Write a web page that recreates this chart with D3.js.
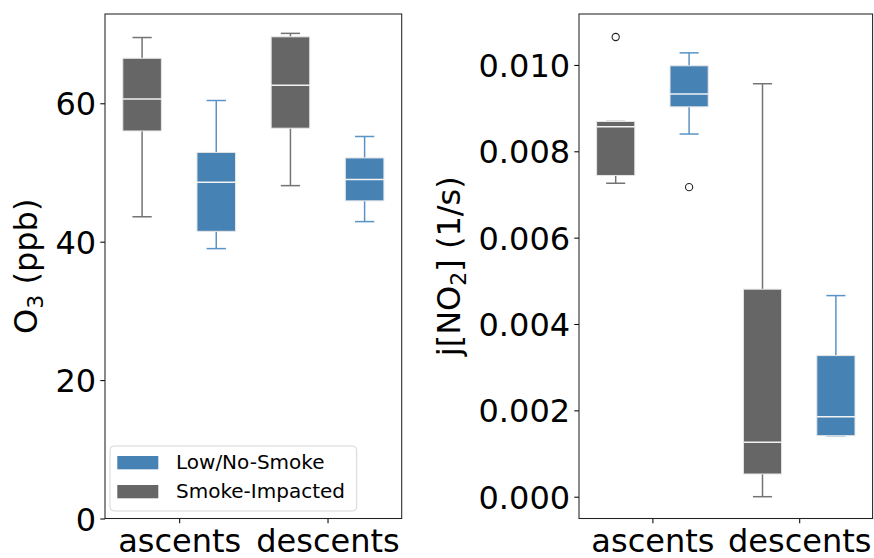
<!DOCTYPE html>
<html>
<head>
<meta charset="utf-8">
<script src="https://cdn.jsdelivr.net/npm/d3@7"></script>
<style>
  html, body { margin: 0; padding: 0; background: #fff; }
  svg { display: block; font-family: "DejaVu Sans", sans-serif; }
</style>
</head>
<body>
<svg id="chart" width="874" height="558"></svg>
<script>
// ---------- data ----------
const categories = ["ascents", "descents"];
const groups = ["Smoke-Impacted", "Low/No-Smoke"];
const legendOrder = ["Low/No-Smoke", "Smoke-Impacted"];

// box stats: [whiskerLow, q1, median, q3, whiskerHigh]
const o3Smoke   = [[43.6, 56.0, 60.6, 66.5, 69.5], [48.1, 56.4, 62.6, 69.6, 70.1]];
const o3Low     = [[39.0, 41.5, 48.6, 52.9, 60.4], [42.9, 45.9, 49.0, 52.1, 55.2]];
const o3SmokeOut = [[], []];
const o3LowOut   = [[], []];

const jSmoke    = [[0.00726, 0.00744, 0.00857, 0.00869, 0.00869], [0.0000, 0.000526, 0.00126, 0.004806, 0.009565]];
const jLow      = [[0.00840, 0.00903, 0.009325, 0.00998, 0.01028], [0.001414, 0.001414, 0.001854, 0.003268, 0.004658]];
const jSmokeOut = [[0.010647], []];
const jLowOut   = [[0.00717], []];

const o3Ticks = [0, 20, 40, 60];
const jTicks = [0, 0.002, 0.004, 0.006, 0.008, 0.010];

// ---------- style ----------
const colors = { "Smoke-Impacted": "#666666", "Low/No-Smoke": "#4682b4" };
const whiskerColors = { "Smoke-Impacted": "#747474", "Low/No-Smoke": "#5a93c4" };
const offsets = { "Smoke-Impacted": -0.25, "Low/No-Smoke": 0.25 };
const boxW = 0.26;

const svg = d3.select("#chart");

function panel(cfg) {
  const g = svg.append("g");
  const x = d3.scaleLinear().domain([-0.5, 1.5]).range([cfg.left, cfg.right]);
  const y = d3.scaleLinear().domain(cfg.ydomain).range([cfg.bottom, cfg.top]);

  // axes
  const yAxis = d3.axisLeft(y).tickValues(cfg.ticks).tickSize(4.7).tickPadding(4.2)
    .tickFormat(cfg.fmt);
  const ya = g.append("g").attr("transform", `translate(${cfg.left},0)`).call(yAxis);
  const xAxis = d3.axisBottom(x).tickValues([0, 1]).tickSize(4.7).tickPadding(4.2)
    .tickFormat(i => categories[i]);
  const xa = g.append("g").attr("transform", `translate(0,${cfg.bottom})`).call(xAxis);
  [ya, xa].forEach(a => {
    a.select(".domain").remove();
    a.selectAll(".tick line").attr("stroke", "#000").attr("stroke-width", 1.05);
    a.selectAll(".tick text").attr("font-size", 32).attr("fill", "#000")
      .attr("font-family", "DejaVu Sans, sans-serif");
  });
  xa.selectAll(".tick text").attr("dy", null).attr("y", 33.2);
  ya.selectAll(".tick text").attr("dy", "0.36em");

  // boxes
  const series = [
    { name: "Smoke-Impacted", stats: cfg.smoke, out: cfg.smokeOut },
    { name: "Low/No-Smoke", stats: cfg.low, out: cfg.lowOut }
  ];
  series.forEach(s => {
    s.stats.forEach((st, i) => {
      const [lo, q1, med, q3, hi] = st;
      const cx = x(i + offsets[s.name]);
      const half = (x(boxW) - x(0)) / 2;
      const wc = whiskerColors[s.name];
      // whiskers
      g.append("line").attr("x1", cx).attr("x2", cx).attr("y1", y(q3)).attr("y2", y(hi))
        .attr("stroke", wc).attr("stroke-width", 1.5);
      g.append("line").attr("x1", cx).attr("x2", cx).attr("y1", y(q1)).attr("y2", y(lo))
        .attr("stroke", wc).attr("stroke-width", 1.5);
      // caps
      [lo, hi].forEach(v => {
        g.append("line").attr("x1", cx - half / 2).attr("x2", cx + half / 2)
          .attr("y1", y(v)).attr("y2", y(v)).attr("stroke", wc).attr("stroke-width", 1.5);
      });
      // box
      g.append("rect").attr("x", cx - half).attr("width", 2 * half)
        .attr("y", y(q3)).attr("height", y(q1) - y(q3))
        .attr("fill", colors[s.name]).attr("stroke", "#e6e6e6").attr("stroke-width", 1);
      // median
      g.append("line").attr("x1", cx - half).attr("x2", cx + half)
        .attr("y1", y(med)).attr("y2", y(med)).attr("stroke", "#f2f2f2").attr("stroke-width", 1.5);
      // outliers
      s.out[i].forEach(v => {
        g.append("circle").attr("cx", cx).attr("cy", y(v)).attr("r", 3.6)
          .attr("fill", "#fff").attr("stroke", "#222").attr("stroke-width", 1.1);
      });
    });
  });

  // frame
  g.append("rect").attr("x", cfg.left).attr("y", cfg.top)
    .attr("width", cfg.right - cfg.left).attr("height", cfg.bottom - cfg.top)
    .attr("fill", "none").attr("stroke", "#222").attr("stroke-width", 1.05);

  // y label
  const lab = g.append("text")
    .attr("transform", `translate(${cfg.labelX},${(cfg.top + cfg.bottom) / 2}) rotate(-90)`)
    .attr("text-anchor", "middle").attr("font-size", 32).attr("fill", "#000");
  cfg.label(lab);
  return { g, x, y };
}

const left = panel({
  left: 105, right: 401.7, top: 14, bottom: 518.5,
  ydomain: [0, 72.9], ticks: o3Ticks, fmt: d3.format("d"),
  smoke: o3Smoke, low: o3Low, smokeOut: o3SmokeOut, lowOut: o3LowOut,
  labelX: 36.5,
  label: t => {
    t.append("tspan").text("O");
    t.append("tspan").attr("font-size", 22).attr("dy", 6).text("3");
    t.append("tspan").attr("dy", -6).text(" (ppb)");
  }
});

const right = panel({
  left: 579, right: 872.6, top: 14, bottom: 518.5,
  ydomain: [-0.000505, 0.01118], ticks: jTicks, fmt: d3.format(".3f"),
  smoke: jSmoke, low: jLow, smokeOut: jSmokeOut, lowOut: jLowOut,
  labelX: 460,
  label: t => {
    t.append("tspan").text("j[NO");
    t.append("tspan").attr("font-size", 22).attr("dy", 6).text("2");
    t.append("tspan").attr("dy", -6).text("] (1/s)");
  }
});

// legend
const lg = svg.append("g");
lg.append("rect").attr("x", 110).attr("y", 446).attr("width", 246.7).attr("height", 65)
  .attr("rx", 4).attr("fill", "#fff").attr("fill-opacity", 0.8)
  .attr("stroke", "#d6d6d6").attr("stroke-width", 1);
legendOrder.forEach((name, i) => {
  const yy = 456 + i * 29;
  lg.append("rect").attr("x", 117.3).attr("y", yy).attr("width", 41).attr("height", 13.3)
    .attr("fill", colors[name]);
  lg.append("text").attr("x", 176).attr("y", yy + 13.3).attr("font-size", 20)
    .attr("fill", "#000").text(name);
});
</script>
</body>
</html>
